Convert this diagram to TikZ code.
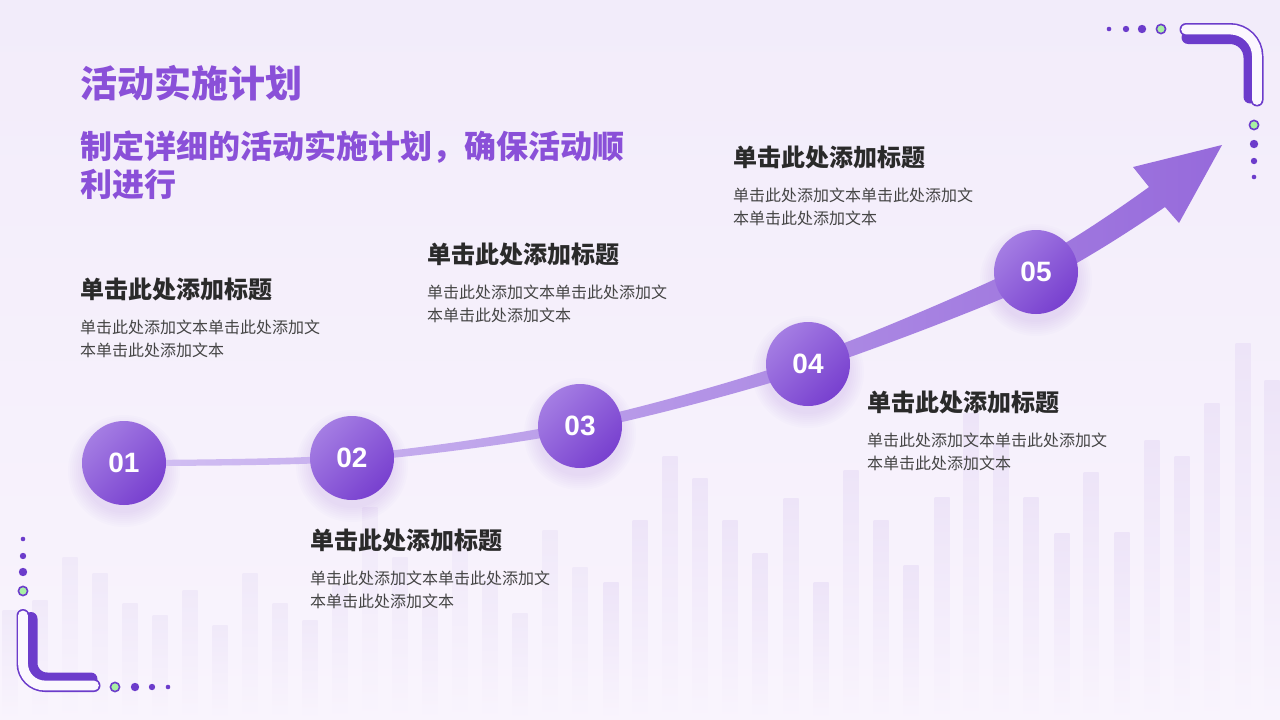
\documentclass[tikz,border=0pt]{standalone}
\usepackage{fontspec}
\usepackage{xcolor}
\usepackage{tikz}
\usetikzlibrary{positioning,calc}
\newfontfamily\cjk{Noto Sans CJK SC}
\newfontfamily\numfont{Liberation Sans}
\definecolor{bgtop}{HTML}{F2ECFA}
\definecolor{bgbot}{HTML}{F9F4FD}
\definecolor{barc}{HTML}{EDE4F8}
\definecolor{barl}{HTML}{F0E9F9}
\definecolor{titlec}{HTML}{8A50D8}
\definecolor{headc}{HTML}{2A2A2A}
\definecolor{bodyc}{HTML}{454545}
\definecolor{ballhi}{HTML}{A47DE3}
\definecolor{balllo}{HTML}{7840CF}
\definecolor{linehi}{HTML}{D3C1F3}
\definecolor{linelo}{HTML}{966ADB}
\definecolor{glowc}{HTML}{8E5AD8}
\definecolor{decop}{HTML}{6C3CCB}
\definecolor{decow}{HTML}{FBF7FE}
\definecolor{decog}{HTML}{A8F0A3}

\begin{document}
\begin{tikzpicture}[x=1pt, y=-1pt,
  title/.style={anchor=west, inner sep=0, text=titlec, font=\cjk\bfseries\fontsize{37}{44}\selectfont},
  sub/.style={anchor=north west, inner sep=0, align=left, text=titlec, font=\cjk\bfseries\fontsize{32}{38}\selectfont},
  head/.style={anchor=west, inner sep=0, text=headc, font=\cjk\bfseries\fontsize{24}{28}\selectfont},
  body/.style={inner sep=0, align=left, text=bodyc, font=\cjk\fontsize{16}{23}\selectfont},
  ball/.style={circle, minimum size=84pt, inner sep=0, shading=axis, top color=ballhi, bottom color=balllo,
    shading angle=45, text=white, font=\numfont\bfseries\fontsize{28}{28}\selectfont},
  dot/.style={fill=decop},
  gdot/.style={fill=decog, draw=decop, line width=1.6pt}]
\useasboundingbox (0,0) rectangle (1280,720);
\shade[top color=bgtop, bottom color=bgbot] (0,0) rectangle (1280,720);

% faint bars in the back
\foreach \x/\t in {10/610, 40/600, 70/557, 100/573, 130/603, 160/615, 190/590, 220/625, 250/573, 280/603,
  310/620, 340/585, 370/507, 400/557, 430/600, 460/530, 490/580, 520/613, 550/530, 580/567}
  \shade[top color=barl, bottom color=bgbot] (\x-7.5,\t) rectangle (\x+7.5,720);
\foreach \x/\t in {611/582, 640/520, 670/456, 700/478, 730/520, 760/553, 791/498, 821/582, 851/470, 881/520,
  911/565, 942/497, 971/413, 1001/443, 1031/497, 1062/533, 1091/472, 1122/532, 1152/440,
  1182/456, 1212/403, 1243/343, 1272/380}
  \shade[top color=barc, bottom color=bgbot] (\x-7.5,\t) rectangle (\x+7.5,720);

% corner decorations
\draw[decop, line width=13pt, line cap=round, rounded corners=20pt] (1188,37.5) -- (1250,37.5) -- (1250,97);
\draw[decop, line width=13pt, line cap=round, rounded corners=27pt] (1186,29.5) -- (1257,29.5) -- (1257,100);
\draw[decow, line width=9.8pt, line cap=round, rounded corners=27pt] (1186,29.5) -- (1257,29.5) -- (1257,100);
\draw[decop, line width=13pt, line cap=round, rounded corners=16pt] (31,618.5) -- (31,679) -- (91,679);
\draw[decop, line width=13pt, line cap=round, rounded corners=22pt] (23,615.5) -- (23,685.5) -- (94,685.5);
\draw[decow, line width=9.8pt, line cap=round, rounded corners=22pt] (23,615.5) -- (23,685.5) -- (94,685.5);
\fill[dot] (1109,29) circle (2.3) (1126,29) circle (3.2) (1142,29) circle (4.2);
\filldraw[gdot] (1161,29) circle (4.6);
\filldraw[gdot] (1254,125) circle (4.6);
\fill[dot] (1254,144) circle (4.2) (1254,161) circle (3.2) (1254,177) circle (2.3);
\fill[dot] (23,539) circle (2.3) (23,556) circle (3.2) (23,572) circle (4.2);
\filldraw[gdot] (23,591) circle (4.6);
\filldraw[gdot] (115,687) circle (4.6);
\fill[dot] (135,687) circle (4.2) (152,687) circle (3.2) (168,687) circle (2.3);

% title
\node[title] (ttl) at (80,83) {活动实施计划};
\node[sub] (subttl) at (80,130) {制定详细的活动实施计划，确保活动顺\\利进行};

% step centres
\coordinate (c1) at (124,463);
\coordinate (c2) at (352,458);
\coordinate (c3) at (580,426);
\coordinate (c4) at (808,364);
\coordinate (c5) at (1036,272);
\foreach \i in {1,...,5}
  \foreach \r in {42,44,...,56}
    \fill[glowc, opacity=.018] ($(c\i)+(0,8)$) circle (\r);

% growing arrow through the steps
\coordinate (u1) at ($(c1)+(0,-3)$);
\coordinate (u2) at ($(c2)+(-0.3,-3.5)$);
\coordinate (u3) at ($(c3)+(-1,-4.9)$);
\coordinate (u4) at ($(c4)+(-2.2,-6.6)$);
\coordinate (u5) at ($(c5)+(-5,-9.8)$);
\coordinate (l1) at ($(c1)+(0,3)$);
\coordinate (l2) at ($(c2)+(0.3,3.5)$);
\coordinate (l3) at ($(c3)+(1,4.9)$);
\coordinate (l4) at ($(c4)+(2.2,6.6)$);
\coordinate (l5) at ($(c5)+(5,9.8)$);
\coordinate (nu) at (1149,187);
\coordinate (nl) at (1165,207);
\coordinate (bu) at (1133,167);
\coordinate (tip) at (1222,145);
\coordinate (bl) at (1179,223);
\shade[left color=linehi, right color=linelo]
  plot[smooth] coordinates {(u1) (u2) (u3) (u4) (u5) (nu)} -- (bu) -- (tip) -- (bl)
  -- plot[smooth] coordinates {(nl) (l5) (l4) (l3) (l2) (l1)} -- cycle;

\node[ball] (s1) at (c1) {01};
\node[ball] (s2) at (c2) {02};
\node[ball] (s3) at (c3) {03};
\node[ball] (s4) at (c4) {04};
\node[ball] (s5) at (c5) {05};

% texts of the steps
\node[head] (h1) at (80,289) {单击此处添加标题};
\node[body, below=19pt of h1.south west, anchor=north west] (b1) {单击此处添加文本单击此处添加文\\本单击此处添加文本};
\node[head] (h2) at (310,540) {单击此处添加标题};
\node[body, below=19pt of h2.south west, anchor=north west] (b2) {单击此处添加文本单击此处添加文\\本单击此处添加文本};
\node[head] (h3) at (427,254) {单击此处添加标题};
\node[body, below=19pt of h3.south west, anchor=north west] (b3) {单击此处添加文本单击此处添加文\\本单击此处添加文本};
\node[head] (h4) at (867,402) {单击此处添加标题};
\node[body, below=19pt of h4.south west, anchor=north west] (b4) {单击此处添加文本单击此处添加文\\本单击此处添加文本};
\node[head] (h5) at (733,157) {单击此处添加标题};
\node[body, below=19pt of h5.south west, anchor=north west] (b5) {单击此处添加文本单击此处添加文\\本单击此处添加文本};
\end{tikzpicture}
\end{document}
